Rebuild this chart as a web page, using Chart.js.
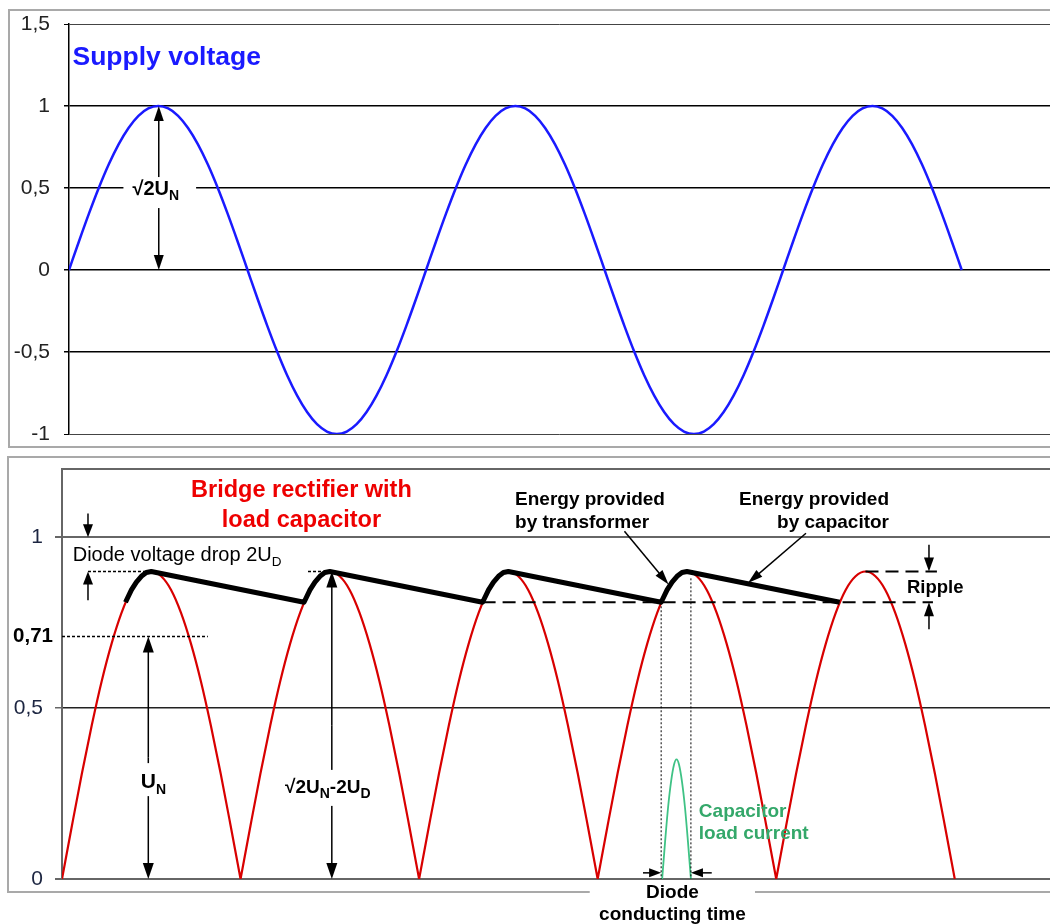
<!DOCTYPE html>
<html><head><meta charset="utf-8">
<script src="https://cdn.jsdelivr.net/npm/chart.js@4.4.1/dist/chart.umd.min.js"></script>
<style>
html,body{margin:0;padding:0;background:#fff;overflow:hidden;width:1050px;height:924px;}
.panel{position:absolute;border:2px solid #a9a9a9;box-sizing:border-box;background:#fff;}
#p1{left:8px;top:9px;width:1100px;height:439px;}
#p2{left:7px;top:456px;width:1100px;height:437px;}
canvas{position:absolute;left:0;}
#c1{top:0;} #c2{top:450px;}
</style></head><body>
<div class="panel" id="p1"></div><div class="panel" id="p2"></div>
<canvas id="c1" width="1050" height="450"></canvas>
<canvas id="c2" width="1050" height="474"></canvas>
<script>
// ---------- data ----------
const angleDeg = [0,10,20,30,40,50,60,70,80,90,100,110,120,130,140,150,160,170,180,190,200,210,220,230,240,250,260,270,280,290,300,310,320,330,340,350,360,370,380,390,400,410,420,430,440,450,460,470,480,490,500,510,520,530,540,550,560,570,580,590,600,610,620,630,640,650,660,670,680,690,700,710,720,730,740,750,760,770,780,790,800,810,820,830,840,850,860,870,880,890,900];
const supplyVoltage = [0,.174,.342,.5,.643,.766,.866,.94,.985,1,.985,.94,.866,.766,.643,.5,.342,.174,
 0,-.174,-.342,-.5,-.643,-.766,-.866,-.94,-.985,-1,-.985,-.94,-.866,-.766,-.643,-.5,-.342,-.174,
 0,.174,.342,.5,.643,.766,.866,.94,.985,1,.985,.94,.866,.766,.643,.5,.342,.174,
 0,-.174,-.342,-.5,-.643,-.766,-.866,-.94,-.985,-1,-.985,-.94,-.866,-.766,-.643,-.5,-.342,-.174,
 0,.174,.342,.5,.643,.766,.866,.94,.985,1,.985,.94,.866,.766,.643,.5,.342,.174,0];
const rectifiedVoltage = [0,.156,.308,.45,.579,.689,.779,.846,.886,.9,.886,.846,.779,.689,.579,.45,.308,.156,
 0,.156,.308,.45,.579,.689,.779,.846,.886,.9,.886,.846,.779,.689,.579,.45,.308,.156,
 0,.156,.308,.45,.579,.689,.779,.846,.886,.9,.886,.846,.779,.689,.579,.45,.308,.156,
 0,.156,.308,.45,.579,.689,.779,.846,.886,.9,.886,.846,.779,.689,.579,.45,.308,.156,
 0,.156,.308,.45,.579,.689,.779,.846,.886,.9,.886,.846,.779,.689,.579,.45,.308,.156,0];
const capacitorDeg = [64,70,75,80,85,90,244,250,255,260,265,270,424,430,435,440,445,450,604,610,615,620,625,630,784];
const capacitorVoltage = [.81,.846,.869,.886,.897,.9,.81,.846,.869,.886,.897,.9,.81,.846,.869,.886,.897,.9,.81,.846,.869,.886,.897,.9,.81];
const currentDeg = [605,608,611,614,617,619.5,622,625,628,631,634];
const loadCurrent = [0,.11,.21,.285,.335,.35,.335,.285,.21,.11,0];
const supplyTicks = [-1,-0.5,0,0.5,1,1.5];
const rectifierTicks = [0,0.5,1,1.2];
const markedLevel = 0.71;

// ---------- helpers ----------
const FONT = '"Liberation Sans", Arial, Helvetica, sans-serif';
Chart.defaults.font.family = FONT;
const fmt = v => String(v).replace('.', ',');
const pts = (xs, ys) => xs.map((x, i) => ({x, y: ys[i]}));
function withBreaks(xs, ys){ // break the line at each cusp so it stays sharp
  const out = [];
  xs.forEach((x, i) => { out.push({x, y: ys[i]});
    if (i > 0 && i < xs.length - 1 && ys[i] === 0) { out.push({x, y: null}); out.push({x, y: 0}); } });
  return out;
}
function head(ctx, x, y, a, len, half){
  ctx.save(); ctx.translate(x, y); ctx.rotate(a);
  ctx.beginPath(); ctx.moveTo(0,0); ctx.lineTo(-len,-half); ctx.lineTo(-len,half); ctx.closePath(); ctx.fill();
  ctx.restore();
}
function arrow(ctx, x1, y1, x2, y2, len, half){
  const a = Math.atan2(y2-y1, x2-x1);
  ctx.setLineDash([]);
  ctx.beginPath(); ctx.moveTo(x1,y1); ctx.lineTo(x2-Math.cos(a)*(len-2), y2-Math.sin(a)*(len-2)); ctx.stroke();
  head(ctx, x2, y2, a, len, half);
}
function fontOf(p){ return (p[2] ? 'bold ' : '') + p[1] + 'px ' + FONT; }
function widths(ctx, parts){ return parts.map(p => { ctx.font = fontOf(p); return ctx.measureText(p[0]).width; }); }
function rich(ctx, parts, x, y, align){
  const w = widths(ctx, parts); const total = w.reduce((a,b)=>a+b,0);
  let sx = align==='center' ? x-total/2 : align==='right' ? x-total : align==='first' ? x-w[0]/2 : x;
  ctx.textAlign='left'; ctx.textBaseline='alphabetic';
  parts.forEach((p,i) => { ctx.font = fontOf(p); ctx.fillText(p[0], sx, y + (p[3]||0)); sx += w[i]; });
  return total;
}
function hline(ctx, x1, x2, y, dash, lw){ ctx.setLineDash(dash); ctx.lineWidth=lw; ctx.beginPath(); ctx.moveTo(x1,y); ctx.lineTo(x2,y); ctx.stroke(); }
function vline(ctx, x, y1, y2, dash, lw){ ctx.setLineDash(dash); ctx.lineWidth=lw; ctx.beginPath(); ctx.moveTo(x,y1); ctx.lineTo(x,y2); ctx.stroke(); }
function fixAxis(width){ return s => { s.width = width; s.paddingTop = 0; s.paddingBottom = 0; }; }

// ---------- top chart ----------
const topNotes = { id:'topNotes', afterDatasetsDraw(chart){
  const {ctx, scales:{x, y}} = chart; const X=v=>x.getPixelForValue(v), Y=v=>y.getPixelForValue(v);
  ctx.save();
  ctx.fillStyle='#1a1aff'; ctx.font='bold 26.5px '+FONT; ctx.textAlign='left'; ctx.textBaseline='alphabetic';
  ctx.fillText('Supply voltage', X(3.5), Y(1.25));
  ctx.strokeStyle='#000'; ctx.fillStyle='#000'; ctx.lineWidth=1.5;
  const ax = X(90.5), mid = Y(0.5);
  arrow(ctx, ax, mid, ax, Y(1), 15, 5); arrow(ctx, ax, mid, ax, Y(0), 15, 5);
  const parts=[['√2U',20,true],['N',14,true,5]];
  const tw = widths(ctx, parts).reduce((a,b)=>a+b,0); const base = Y(0.457);
  ctx.fillStyle='#fff'; ctx.fillRect(ax-tw/2-12, base-18, tw+26, 31);
  ctx.fillStyle='#000'; rich(ctx, parts, ax-3, base, 'center');
  ctx.restore();
}};

new Chart(document.getElementById('c1'), {
  type:'line',
  data:{ datasets:[{ data: pts(angleDeg, supplyVoltage), borderColor:'#1a1aff', borderWidth:2.5, pointRadius:0, cubicInterpolationMode:'monotone', fill:false }]},
  options:{ responsive:false, animation:false, events:[],
    layout:{ padding:{ top:24, bottom:16, left:0, right:0 } },
    plugins:{ legend:{display:false}, tooltip:{enabled:false} },
    scales:{
      x:{ type:'linear', min:0, max:989, display:false },
      y:{ min:-1, max:1.5,
        afterFit: fixAxis(69),
        afterBuildTicks: s => { s.ticks = supplyTicks.map(v => ({value:v})); },
        ticks:{ callback: v => fmt(v), color:'#222', font:{size:21}, padding:14 },
        grid:{ color: c => (c.tick && (c.tick.value===1.5 || c.tick.value===-1)) ? '#444' : '#000',
               lineWidth: c => (c.tick && (c.tick.value===1.5 || c.tick.value===-1)) ? 1 : 1.5,
               tickLength:5, tickColor:'#000' },
        border:{ color:'#000', width:1.5 } } } },
  plugins:[topNotes]
});

// ---------- bottom chart ----------
const bottomNotes = { id:'bottomNotes', afterDatasetsDraw(chart){
  const {ctx, chartArea:ca, scales:{x, y}} = chart; const X=v=>x.getPixelForValue(v), Y=v=>y.getPixelForValue(v);
  ctx.save(); ctx.textBaseline='alphabetic';
  // title
  ctx.fillStyle='#ee0000'; ctx.font='bold 23.5px '+FONT; ctx.textAlign='center';
  ctx.fillText('Bridge rectifier with', X(241.4), Y(1.118));
  ctx.fillText('load capacitor', X(241.4), Y(1.03));
  // energy labels
  ctx.fillStyle='#000'; ctx.font='bold 19px '+FONT; ctx.textAlign='left';
  ctx.fillText('Energy provided', X(456.7), Y(1.095));
  ctx.fillText('by transformer', X(456.7), Y(1.027));
  ctx.textAlign='right';
  ctx.fillText('Energy provided', X(833.7), Y(1.095));
  ctx.fillText('by capacitor', X(833.7), Y(1.027));
  ctx.strokeStyle='#000'; ctx.fillStyle='#000'; ctx.lineWidth=1.5;
  arrow(ctx, X(567), Y(1.018), X(611.5), Y(0.862), 15, 4.5);
  arrow(ctx, X(750), Y(1.012), X(691.5), Y(0.866), 15, 4.5);
  // diode drop
  rich(ctx, [['Diode voltage drop 2U',20,false],['D',13.5,false,5]], X(10.8), Y(0.931), 'left');
  ctx.lineWidth=1.5;
  arrow(ctx, X(26.2), Y(1.07), X(26.2), Y(1), 13, 5);
  arrow(ctx, X(26.2), Y(0.816), X(26.2), Y(0.9), 13, 5);
  hline(ctx, X(26.2), X(90), Y(0.9), [3,2], 1.5);
  hline(ctx, X(248), X(270), Y(0.9), [3,2], 1.5);
  hline(ctx, ca.left, X(147), Y(markedLevel), [3,2], 1.5);
  // 0,71 label
  ctx.setLineDash([]); ctx.font='bold 20.5px '+FONT; ctx.textAlign='right'; ctx.textBaseline='middle';
  ctx.fillText(fmt(markedLevel), ca.left-9, Y(markedLevel)); ctx.textBaseline='alphabetic';
  // U_N arrow
  ctx.lineWidth=1.5;
  let ax = X(87), mid = (Y(markedLevel)+Y(0))/2;
  arrow(ctx, ax, mid, ax, Y(markedLevel), 16, 5.5); arrow(ctx, ax, mid, ax, Y(0), 16, 5.5);
  let base = Y(0.266);
  ctx.fillStyle='#fff'; ctx.fillRect(ax-12, base-25, 34, 33);
  ctx.fillStyle='#000'; rich(ctx, [['U',21,true],['N',14,true,6]], ax, base, 'first');
  // sqrt2 U_N - 2U_D arrow
  ax = X(272); mid = (Y(0.9)+Y(0))/2;
  arrow(ctx, ax, mid, ax, Y(0.9), 16, 5.5); arrow(ctx, ax, mid, ax, Y(0), 16, 5.5);
  base = Y(0.252);
  const p2 = [['√2U',19,true],['N',14,true,5],['-2U',19,true],['D',14,true,5]];
  const tw2 = widths(ctx, p2).reduce((a,b)=>a+b,0);
  ctx.fillStyle='#fff'; ctx.fillRect(ax-tw2/2-6, base-23, tw2+12, 36);
  ctx.fillStyle='#000'; rich(ctx, p2, ax-4, base, 'center');
  // ripple
  hline(ctx, X(424), X(878), Y(0.81), [13,7], 2);
  hline(ctx, X(810), X(882), Y(0.9), [13,7], 2);
  ctx.lineWidth=1.5;
  arrow(ctx, X(874), Y(0.978), X(874), Y(0.9), 14, 5);
  arrow(ctx, X(874), Y(0.731), X(874), Y(0.81), 14, 5);
  ctx.font='bold 18.5px '+FONT; ctx.textAlign='left';
  ctx.fillText('Ripple', X(851.8), Y(0.837));
  // conduction window
  ctx.strokeStyle='#000';
  vline(ctx, X(604), Y(0.81), ca.bottom, [2,2], 1);
  vline(ctx, X(634), Y(0.88), ca.bottom, [2,2], 1);
  ctx.lineWidth=1.5;
  arrow(ctx, X(585.7), Y(0.018), X(604), Y(0.018), 12, 4.5);
  arrow(ctx, X(655), Y(0.018), X(634), Y(0.018), 12, 4.5);
  // green label
  ctx.fillStyle='#34a86a'; ctx.font='bold 19px '+FONT; ctx.textAlign='left';
  ctx.fillText('Capacitor', X(642), Y(0.181));
  ctx.fillText('load current', X(642), Y(0.117));
  // diode conducting time
  ctx.fillStyle='#fff'; ctx.fillRect(X(532), ca.bottom+4, X(698.6)-X(532), 60);
  ctx.fillStyle='#000'; ctx.textAlign='center'; ctx.font='bold 19px '+FONT;
  ctx.fillText('Diode', X(615.4), ca.bottom+19);
  ctx.fillText('conducting time', X(615.4), ca.bottom+41);
  ctx.restore();
}};

new Chart(document.getElementById('c2'), {
  type:'line',
  data:{ datasets:[
    { data: pts(capacitorDeg, capacitorVoltage), borderColor:'#000', borderWidth:5, pointRadius:0, tension:0, borderJoinStyle:'round', borderCapStyle:'butt', fill:false },
    { data: pts(currentDeg, loadCurrent), borderColor:'#3fc285', borderWidth:1.8, pointRadius:0, cubicInterpolationMode:'monotone', fill:false },
    { data: withBreaks(angleDeg, rectifiedVoltage), borderColor:'#d80000', borderWidth:2.2, pointRadius:0, cubicInterpolationMode:'monotone', spanGaps:false, fill:false }
  ]},
  options:{ responsive:false, animation:false, events:[],
    layout:{ padding:{ top:19, bottom:45, left:0, right:0 } },
    plugins:{ legend:{display:false}, tooltip:{enabled:false} },
    scales:{
      x:{ type:'linear', min:0, max:996, display:false },
      y:{ min:0, max:1.2,
        afterFit: fixAxis(62),
        afterBuildTicks: s => { s.ticks = rectifierTicks.map(v => ({value:v})); },
        ticks:{ callback: v => (v === 1.2 ? '' : fmt(v)), color:'#1c2541', font:{size:21}, padding:12 },
        grid:{ color: c => (c.tick && c.tick.value===0.5) ? '#222' : '#666',
               lineWidth: c => (c.tick && c.tick.value===0.5) ? 1.5 : 2,
               tickLength:7, tickColor: c => (c.tick && c.tick.value===1.2) ? 'rgba(0,0,0,0)' : '#666' },
        border:{ color:'#666', width:2 } } } },
  plugins:[bottomNotes]
});
</script>
</body></html>
